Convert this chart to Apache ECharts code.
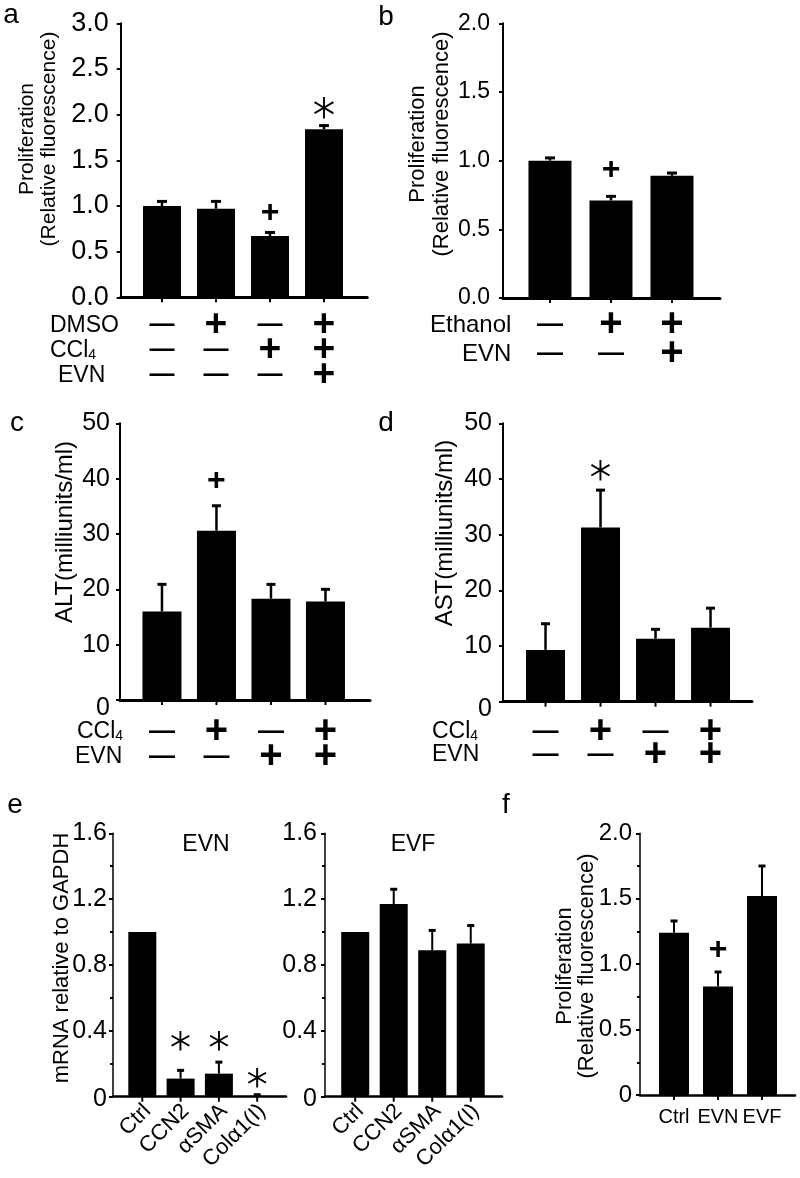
<!DOCTYPE html>
<html><head><meta charset="utf-8">
<script src="https://cdn.jsdelivr.net/npm/echarts@6/dist/echarts.min.js"></script>
<style>html,body{margin:0;padding:0;background:#fff}#c{width:800px;height:1178px}</style>
</head><body><div id="c"></div>
<script>
// ---------- DATA ----------
// Panel a
const aMeans = [1.00, 0.97, 0.67, 1.84];
const aErrs  = [0.05, 0.08, 0.04, 0.04];
const aSig   = ['', '', '+', '*'];
const aSigAt = [null, null, 0.92, 2.08];
const aRowLabels = ['DMSO', 'CCl4', 'EVN'];
const aDMSO = ['-', '+', '-', '+'];
const aCCl4 = ['-', '-', '+', '+'];
const aEVN  = ['-', '-', '-', '+'];
const aYTicks  = [0, 0.5, 1.0, 1.5, 2.0, 2.5, 3.0];
const aYLabels = ['0.0', '0.5', '1.0', '1.5', '2.0', '2.5', '3.0'];
// Panel b
const bMeans = [1.00, 0.71, 0.89];
const bErrs  = [0.02, 0.03, 0.02];
const bSig   = ['', '+', ''];
const bSigAt = [null, 0.93, null];
const bRowLabels = ['Ethanol', 'EVN'];
const bEthanol = ['-', '+', '+'];
const bEVN     = ['-', '-', '+'];
const bYTicks  = [0, 0.5, 1.0, 1.5, 2.0];
const bYLabels = ['0.0', '0.5', '1.0', '1.5', '2.0'];
// Panel c (ALT)
const cMeans = [16.0, 30.6, 18.3, 17.8];
const cErrs  = [4.9, 4.5, 2.6, 2.2];
const cSig   = ['', '+', '', ''];
const cSigAt = [null, 39.5, null, null];
const cRowLabels = ['CCl4', 'EVN'];
const cCCl4 = ['-', '+', '-', '+'];
const cEVN  = ['-', '-', '+', '+'];
const cYTicks  = [0, 10, 20, 30, 40, 50];
const cYLabels = ['0', '10', '20', '30', '40', '50'];
// Panel d (AST)
const dMeans = [9.3, 31.3, 11.3, 13.3];
const dErrs  = [4.7, 6.7, 1.7, 3.5];
const dSig   = ['', '*', '', ''];
const dSigAt = [null, 41.6, null, null];
const dRowLabels = ['CCl4', 'EVN'];
const dCCl4 = ['-', '+', '-', '+'];
const dEVN  = ['-', '-', '+', '+'];
const dYTicks  = [0, 10, 20, 30, 40, 50];
const dYLabels = ['0', '10', '20', '30', '40', '50'];
// Panel e (mRNA)
const eGenes = ['Ctrl', 'CCN2', 'αSMA', 'Colα1(I)'];
const eEVNMeans = [1.00, 0.11, 0.14, 0.005];
const eEVNErrs  = [0, 0.05, 0.07, 0.007];
const eEVNSig   = ['', '*', '*', '*'];
const eEVNSigAt = [null, 0.345, 0.345, 0.12];
const eEVFMeans = [1.00, 1.17, 0.89, 0.93];
const eEVFErrs  = [0, 0.09, 0.12, 0.11];
const eEVFSig   = ['', '', '', ''];
const eEVFSigAt = [null, null, null, null];
const eYTicks  = [0, 0.4, 0.8, 1.2, 1.6];
const eYLabels = ['0', '0.4', '0.8', '1.2', '1.6'];
// Panel f
const fCats  = ['Ctrl', 'EVN', 'EVF'];
const fMeans = [1.24, 0.83, 1.52];
const fErrs  = [0.09, 0.11, 0.23];
const fSig   = ['', '+', ''];
const fSigAt = [null, 1.11, null];
const fYTicks  = [0, 0.5, 1.0, 1.5, 2.0];
const fYLabels = ['0', '0.5', '1.0', '1.5', '2.0'];

// ---------- LAYOUT / STYLE ----------
const FONT = '"Liberation Sans", Arial, Helvetica, sans-serif';
const STAR_FONT = '"DejaVu Sans", sans-serif';
const PROLIF = 'Proliferation\n(Relative fluorescence)';

const panels = [
  { means: aMeans, errs: aErrs, sig: aSig, sigAt: aSigAt, rows: [aDMSO, aCCl4, aEVN], rowLabels: aRowLabels,
    yTicks: aYTicks, yLabels: aYLabels,
    grid: [120.7, 23.3, 246.5, 274], xMin: -0.765, xMax: 3.8, barW: 38, yAxisW: 2, xAxisW: 3,
    tickFont: 27, tickMargin: 12, zeroShift: 0, minor: false, capW: 10, capLW: 3, errLW: 2.5,
    rowOff: [28, 53, 78], rowLabelX: [50, 50, 58], rowFont: 23, plusFont: 39, dashFont: 25,
    sigPlus: 32, sigStar: 44,
    name: { text: PROLIF, x: 38, y: 139, size: 21, lh: 22 } },
  { means: bMeans, errs: bErrs, sig: bSig, sigAt: bSigAt, rows: [bEthanol, bEVN], rowLabels: bRowLabels,
    yTicks: bYTicks, yLabels: bYLabels,
    grid: [503, 23.3, 217, 274.7], xMin: -0.77, xMax: 2.787, barW: 43, yAxisW: 2, xAxisW: 3,
    tickFont: 23, tickMargin: 13, zeroShift: 0, minor: false, capW: 10, capLW: 3, errLW: 2.5,
    rowOff: [27, 56], rowLabelX: [430, 462], rowFont: 24, plusFont: 40, dashFont: 26,
    sigPlus: 32, sigStar: 44,
    name: { text: PROLIF, x: 430, y: 144, size: 22, lh: 24 } },
  { means: cMeans, errs: cErrs, sig: cSig, sigAt: cSigAt, rows: [cCCl4, cEVN], rowLabels: cRowLabels,
    yTicks: cYTicks, yLabels: cYLabels,
    grid: [120, 423.3, 250, 276.7], xMin: -0.77, xMax: 3.817, barW: 39, yAxisW: 2, xAxisW: 3,
    tickFont: 25, tickMargin: 10, zeroShift: 8, minor: false, capW: 9, capLW: 3, errLW: 2.5,
    rowOff: [32, 57], rowLabelX: [77, 75], rowFont: 23, plusFont: 40, dashFont: 26,
    sigPlus: 32, sigStar: 44,
    name: { text: 'ALT(milliunits/ml)', x: 65, y: 532, size: 24, lh: 24 } },
  { means: dMeans, errs: dErrs, sig: dSig, sigAt: dSigAt, rows: [dCCl4, dEVN], rowLabels: dRowLabels,
    yTicks: dYTicks, yLabels: dYLabels,
    grid: [503, 423.3, 249, 278.4], xMin: -0.773, xMax: 3.754, barW: 39, yAxisW: 2, xAxisW: 3,
    tickFont: 25, tickMargin: 11, zeroShift: 7, minor: false, capW: 9, capLW: 3, errLW: 2.5,
    rowOff: [30, 53], rowLabelX: [432, 432], rowFont: 23, plusFont: 40, dashFont: 26,
    sigPlus: 32, sigStar: 42,
    name: { text: 'AST(milliunits/ml)', x: 445, y: 533, size: 24, lh: 24 } },
  { means: eEVNMeans, errs: eEVNErrs, sig: eEVNSig, sigAt: eEVNSigAt, rows: [], rowLabels: [],
    yTicks: eYTicks, yLabels: eYLabels, xLabels: eGenes, xRot: true,
    grid: [113, 833.3, 173, 263.4], xMin: -0.765, xMax: 3.752, barW: 28, yAxisW: 1.5, xAxisW: 2.5,
    tickFont: 25, tickMargin: 6, zeroShift: 2, minor: true, capW: 7, capLW: 3, errLW: 2,
    sigPlus: 32, sigStar: 41, xLabFont: 22,
    name: { text: 'mRNA relative to GAPDH', x: 62, y: 958, size: 22, lh: 22 },
    title: { text: 'EVN', x: 206, y: 845 } },
  { means: eEVFMeans, errs: eEVFErrs, sig: eEVFSig, sigAt: eEVFSigAt, rows: [], rowLabels: [],
    yTicks: eYTicks, yLabels: eYLabels, xLabels: eGenes, xRot: true,
    grid: [325, 833.3, 177, 263.4], xMin: -0.785, xMax: 3.812, barW: 28, yAxisW: 1.5, xAxisW: 2.5,
    tickFont: 25, tickMargin: 8, zeroShift: 2, minor: true, capW: 7, capLW: 3, errLW: 2,
    sigPlus: 32, sigStar: 41, xLabFont: 22,
    title: { text: 'EVF', x: 413, y: 845 } },
  { means: fMeans, errs: fErrs, sig: fSig, sigAt: fSigAt, rows: [], rowLabels: [],
    yTicks: fYTicks, yLabels: fYLabels, xLabels: fCats, xRot: false,
    grid: [640, 833.3, 155, 261.7], xMin: -0.773, xMax: 2.75, barW: 30, yAxisW: 1.5, xAxisW: 2.5,
    tickFont: 24, tickMargin: 8, zeroShift: 0, minor: true, capW: 7, capLW: 3, errLW: 2,
    sigPlus: 32, sigStar: 41, xLabFont: 20,
    name: { text: PROLIF, x: 576, y: 966, size: 22, lh: 22 } }
];

const letters = [
  { t: 'a', x: 11, y: 15 }, { t: 'b', x: 386, y: 17 }, { t: 'c', x: 17, y: 423 },
  { t: 'd', x: 386, y: 423 }, { t: 'e', x: 15, y: 805 }, { t: 'f', x: 506, y: 805 }
];

// ---------- BUILD ----------
const grids = [], xAxes = [], yAxes = [], series = [], graphics = [];

function richLabel(s) {
  const m = s.match(/^(.*?)(\d)$/);
  if (m && /[A-Za-z]l$/.test(m[1])) return '{n|' + m[1] + '}{s|' + m[2] + '}';
  return '{n|' + s + '}';
}

panels.forEach((P, idx) => {
  const [gl, gt, gw, gh] = P.grid;
  grids.push({ left: gl, top: gt, width: gw, height: gh });
  xAxes.push({
    gridIndex: idx, type: 'value', min: P.xMin, max: P.xMax,
    axisLine: { show: true, onZero: false, lineStyle: { color: '#000', width: P.xAxisW } },
    axisTick: { show: false }, axisLabel: { show: false }, splitLine: { show: false }
  });
  const step = P.yTicks[1] - P.yTicks[0];
  yAxes.push({
    gridIndex: idx, type: 'value', min: P.yTicks[0], max: P.yTicks[P.yTicks.length - 1], interval: step,
    axisLine: { show: true, onZero: false, lineStyle: { color: '#000', width: P.yAxisW } },
    axisTick: { show: true, length: 4, lineStyle: { color: '#000', width: 2 } },
    minorTick: { show: P.minor, splitNumber: 2, length: 3, lineStyle: { color: '#000', width: 2 } },
    splitLine: { show: false }, minorSplitLine: { show: false },
    axisLabel: {
      margin: P.tickMargin, color: '#000', fontSize: P.tickFont, fontFamily: FONT,
      formatter: (v) => {
        const k = P.yTicks.findIndex(t => Math.abs(t - v) < 1e-6);
        const lab = k >= 0 ? P.yLabels[k] : '';
        return (k === 0 && P.zeroShift) ? '{z|' + lab + '}' : lab;
      },
      rich: { z: { fontSize: P.tickFont, fontFamily: FONT, color: '#000', padding: [2 * P.zeroShift, 0, 0, 0] } }
    }
  });
  series.push({
    type: 'bar', xAxisIndex: idx, yAxisIndex: idx, barWidth: P.barW, silent: true,
    itemStyle: { color: '#000' }, data: P.means.map((m, i) => [i, m])
  });
  series.push({
    type: 'custom', xAxisIndex: idx, yAxisIndex: idx, clip: false, silent: true, z: 5,
    data: P.means.map((m, i) => [i, m + P.errs[i]]),
    renderItem: (params, api) => {
      const i = params.dataIndex;
      const m = P.means[i], e = P.errs[i];
      const base = api.coord([i, 0]);
      const top = api.coord([i, m]);
      const cap = api.coord([i, m + e]);
      const kids = [];
      kids.push({ type: 'line', shape: { x1: base[0], y1: base[1], x2: base[0], y2: base[1] + 5 },
        style: { stroke: '#000', lineWidth: 2 } });
      if (e > 0) {
        kids.push({ type: 'line', shape: { x1: top[0], y1: top[1], x2: cap[0], y2: cap[1] },
          style: { stroke: '#000', lineWidth: P.errLW } });
        kids.push({ type: 'line', shape: { x1: cap[0] - P.capW / 2, y1: cap[1], x2: cap[0] + P.capW / 2, y2: cap[1] },
          style: { stroke: '#000', lineWidth: P.capLW } });
      }
      if (P.sig[i]) {
        const sp = api.coord([i, P.sigAt[i]]);
        if (P.sig[i] === '*') {
          // thin six-armed asterisk; its glyph sits ~0.27em above the text middle
          kids.push({ type: 'text', x: sp[0], y: sp[1] + 0.27 * P.sigStar,
            style: { text: '*', fill: '#000', stroke: '#000', lineWidth: 0.9,
              align: 'center', verticalAlign: 'middle',
              fontSize: P.sigStar, fontWeight: 200, fontFamily: STAR_FONT } });
        } else {
          kids.push({ type: 'text', x: sp[0], y: sp[1],
            style: { text: '+', fill: '#000', align: 'center', verticalAlign: 'middle',
              fontSize: P.sigPlus, fontWeight: 'bold', fontFamily: FONT } });
        }
      }
      (P.rows || []).forEach((row, r) => {
        const plus = row[i] === '+';
        kids.push({ type: 'text', x: base[0], y: base[1] + P.rowOff[r],
          style: { text: plus ? '+' : '\u2014', fill: '#000', align: 'center', verticalAlign: 'middle',
            fontSize: plus ? P.plusFont : P.dashFont, fontWeight: 'bold', fontFamily: FONT } });
      });
      if (P.xLabels) {
        if (P.xRot) {
          kids.push({ type: 'text', x: base[0] + 5, y: base[1] + 11, rotation: Math.PI / 4,
            style: { text: P.xLabels[i], fill: '#000', align: 'right', verticalAlign: 'middle',
              fontSize: P.xLabFont, fontFamily: FONT } });
        } else {
          kids.push({ type: 'text', x: base[0], y: base[1] + 22,
            style: { text: P.xLabels[i], fill: '#000', align: 'center', verticalAlign: 'middle',
              fontSize: P.xLabFont, fontFamily: FONT } });
        }
      }
      return { type: 'group', children: kids };
    }
  });
  // row labels
  (P.rowLabels || []).forEach((lab, r) => {
    graphics.push({ type: 'text', x: P.rowLabelX[r], y: gt + gh + P.rowOff[r], silent: true,
      style: { text: richLabel(lab), fill: '#000', align: 'left', verticalAlign: 'middle',
        rich: { n: { fontSize: P.rowFont, fontFamily: FONT, fill: '#000', verticalAlign: 'bottom', lineHeight: P.rowFont },
                s: { fontSize: 14, fontFamily: FONT, fill: '#000', verticalAlign: 'bottom', lineHeight: 12 } } } });
  });
  if (P.name) {
    graphics.push({ type: 'text', x: P.name.x, y: P.name.y, rotation: Math.PI / 2, silent: true,
      style: { text: P.name.text, fill: '#000', align: 'center', verticalAlign: 'middle',
        fontSize: P.name.size, lineHeight: P.name.lh, fontFamily: FONT } });
  }
  if (P.title) {
    graphics.push({ type: 'text', x: P.title.x, y: P.title.y, silent: true,
      style: { text: P.title.text, fill: '#000', align: 'center', verticalAlign: 'middle',
        fontSize: 23, fontFamily: FONT } });
  }
});

letters.forEach(L => graphics.push({ type: 'text', x: L.x, y: L.y, silent: true,
  style: { text: L.t, fill: '#000', align: 'center', verticalAlign: 'middle', fontSize: 28, fontFamily: FONT } }));

const chart = echarts.init(document.getElementById('c'), null, { renderer: 'canvas' });
chart.setOption({
  animation: false, backgroundColor: '#fff',
  grid: grids, xAxis: xAxes, yAxis: yAxes, series: series, graphic: graphics
});
</script></body></html>
